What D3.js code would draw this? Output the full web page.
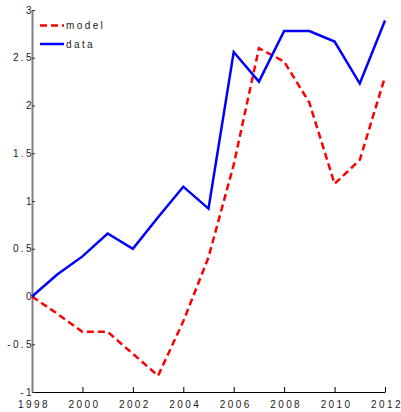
<!DOCTYPE html>
<html>
<head>
<meta charset="utf-8">
<script src="https://cdn.jsdelivr.net/npm/d3@7"></script>
<style>
  body { margin: 0; background: #fff; }
  text { font-family: "Liberation Sans", Arial, sans-serif; font-size: 10px; fill: #222; letter-spacing: 2.4px; }
</style>
</head>
<body>
<div id="chart"></div>
<script>
var width = 401;
var height = 412;
var margin = ({top: 10, right: 16, bottom: 20, left: 32});

var years = [1998, 1999, 2000, 2001, 2002, 2003, 2004, 2005, 2006, 2007, 2008, 2009, 2010, 2011, 2012];
var model = [0, -0.18, -0.37, -0.37, -0.60, -0.83, -0.26, 0.41, 1.38, 2.60, 2.46, 2.03, 1.18, 1.43, 2.30];
var data = [0, 0.23, 0.42, 0.66, 0.50, 0.83, 1.15, 0.92, 2.56, 2.25, 2.78, 2.78, 2.67, 2.23, 2.89];
var xTicks = [1998, 2000, 2002, 2004, 2006, 2008, 2010, 2012];
var yTicks = [-1, -0.5, 0, 0.5, 1, 1.5, 2, 2.5, 3];

var x = d3.scaleLinear()
    .domain([1998, 2012])
    .range([margin.left, width - margin.right]);

var y = d3.scaleLinear()
    .domain([-1, 3])
    .range([height - margin.bottom, margin.top]);

const svg = d3.select("#chart")
    .append("svg")
    .attr("width", width)
    .attr("height", height);

// x axis, ticks pointing inward
svg.append("g")
    .attr("transform", `translate(0,${y(-1)})`)
    .call(d3.axisBottom(x).tickValues(xTicks).tickFormat(d3.format("d")).tickSizeInner(-5).tickSizeOuter(0).tickPadding(7))
    .call(g => g.select(".domain").attr("stroke", "#000"))
    .call(g => g.selectAll(".tick text").attr("dx", "1.5").attr("dy", "0.9em"));

// y axis (gray)
svg.append("g")
    .attr("transform", `translate(${x(1998)},0)`)
    .call(d3.axisLeft(y).tickValues(yTicks).tickFormat(d => String(d)).tickSizeInner(-3).tickSizeOuter(0).tickPadding(-1))
    .call(g => g.select(".domain").attr("stroke", "#808080").attr("stroke-width", 2))
    .call(g => g.selectAll(".tick line").attr("stroke", "#333"))
    .call(g => g.selectAll(".tick text").attr("dx", "1"));

svg.selectAll(".tick text").attr("fill", "#222").style("font-size", "10px");

var line = d3.line()
    .x((d, i) => x(years[i]))
    .y(d => y(d));

svg.append("path")
    .datum(model)
    .attr("fill", "none")
    .attr("stroke", "#ff0000")
    .attr("stroke-width", 2.5)
    .attr("stroke-dasharray", "7,4")
    .attr("d", line);

svg.append("path")
    .datum(data)
    .attr("fill", "none")
    .attr("stroke", "#0000ff")
    .attr("stroke-width", 2.5)
    .attr("d", line);

// legend
var legend = svg.append("g");
var items = [
    {name: "model", color: "#ff0000", dash: "7,4", yy: 25.5},
    {name: "data", color: "#0000ff", dash: null, yy: 44}
];
items.forEach(function (it) {
    legend.append("line")
        .attr("x1", 40).attr("x2", 64)
        .attr("y1", it.yy).attr("y2", it.yy)
        .attr("stroke", it.color)
        .attr("stroke-width", 2.5)
        .attr("stroke-dasharray", it.dash);
    legend.append("text")
        .attr("x", 66)
        .attr("y", it.yy + 3.5)
        .text(it.name);
});
</script>
</body>
</html>
